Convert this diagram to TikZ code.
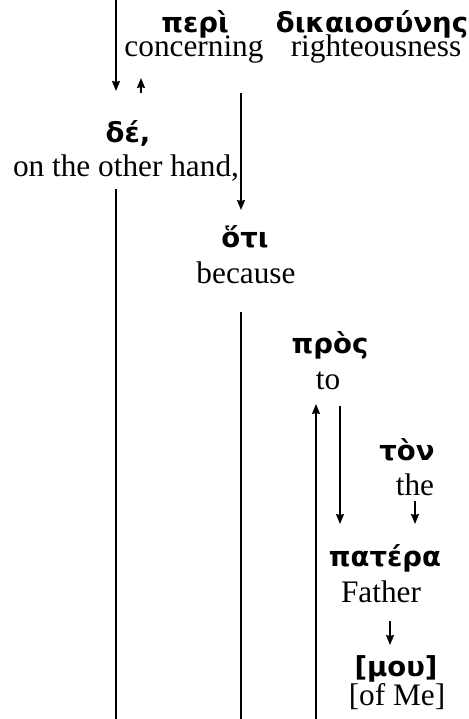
\documentclass[tikz,border=0pt]{standalone}
\usepackage{fontspec}
\setmainfont{Liberation Serif}
\newfontfamily\grk{DejaVu Sans}
\usetikzlibrary{arrows.meta}
\begin{document}
\begin{tikzpicture}[x=1pt,y=-1pt,
  gk/.style={inner sep=0pt,anchor=base,font=\grk\bfseries\fontsize{27.5}{31}\selectfont},
  en/.style={inner sep=0pt,anchor=base,font=\fontsize{31.3}{36}\selectfont},
  link/.style={line width=1.6pt,-{Stealth[length=10pt,width=8pt,inset=1pt]}},
  rule/.style={line width=1.6pt}]
\useasboundingbox (0,0) rectangle (468,719);

% words with their glosses
\node[gk] (peri)   at (195,33)  {περὶ};
\node[en] (concerning) at (194,57) {concerning};
\node[gk] (dik)    at (372,33)  {δικαιοσύνης};
\node[en] (right)  at (376,57)  {righteousness};
\node[gk] (de)     at (128,143) {δέ,};
\node[en] (hand)   at (126,177) {on the other hand,};
\node[gk] (hoti)   at (245,247) {ὅτι};
\node[en] (because) at (246,283) {because};
\node[gk] (pros)   at (330,353) {πρὸς};
\node[en] (to)     at (328,389) {to};
\node[gk] (ton)    at (407,460) {τὸν};
\node[en] (the)    at (415,495) {the};
\node[gk] (patera) at (385,566) {πατέρα};
\node[en] (father) at (381,602) {Father};
\node[gk] (mou)    at (396,676) {[μου]};
\node[en] (ofme)   at (397,705) {[of Me]};

% free ends of the connectors
\coordinate (topA) at (116,0);
\coordinate (deIn) at (116,91);
\coordinate (deUp) at (141,93);
\coordinate (periUp) at (141,78);
\coordinate (periOut) at (241,93);
\coordinate (hotiIn) at (241,210);
\coordinate (deOut) at (116,189);
\coordinate (botA) at (116,719);
\coordinate (hotiOut) at (241,312);
\coordinate (botB) at (241,719);
\coordinate (botC) at (316,719);
\coordinate (prosIn) at (316,404);
\coordinate (prosOut) at (340,406);
\coordinate (pateraInA) at (340,524);
\coordinate (theOut) at (415,501);
\coordinate (pateraInB) at (415,524);
\coordinate (fatherOut) at (390,621);
\coordinate (mouIn) at (390,645);

% connectors
\draw[link] (topA) -- (deIn);
\draw[link] (deUp) -- (periUp);
\draw[link] (periOut) -- (hotiIn);
\draw[rule] (deOut) -- (botA);
\draw[rule] (hotiOut) -- (botB);
\draw[link] (botC) -- (prosIn);
\draw[link] (prosOut) -- (pateraInA);
\draw[link] (theOut) -- (pateraInB);
\draw[link] (fatherOut) -- (mouIn);
\end{tikzpicture}
\end{document}
